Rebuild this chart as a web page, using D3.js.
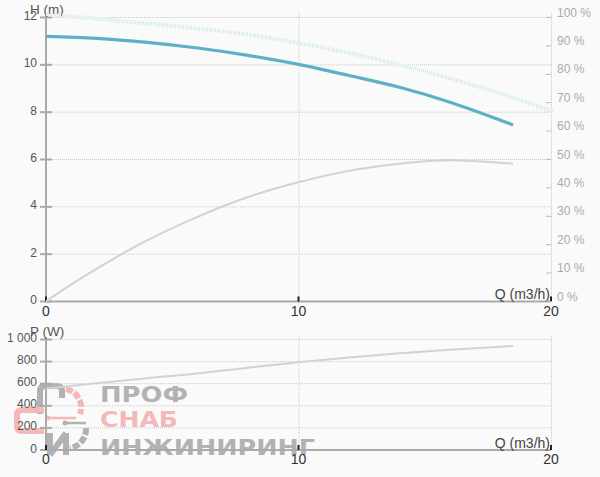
<!doctype html>
<html lang="ru">
<head>
<meta charset="utf-8">
<script src="https://d3js.org/d3.v7.min.js"></script>
<style>
  body { margin: 0; background: #fafafa; }
  svg { display: block; font-family: "Liberation Sans", Arial, sans-serif; }
</style>
</head>
<body>
<div id="chart"></div>
<script>
// ticks
var qTicks = [0, 10, 20];
var hTicks = [0, 2, 4, 6, 8, 10, 12];
var effTicks = [0, 10, 20, 30, 40, 50, 60, 70, 80, 90, 100];
var pTicks = [0, 200, 400, 600, 800, 1000];

// H curve (working point)
var qH   = [0, 2, 4, 6, 8, 10, 12, 14, 16, 18, 18.5];
var hVal = [11.2, 11.12, 10.95, 10.71, 10.4, 10.02, 9.55, 9.05, 8.42, 7.66, 7.46];

// H curve at max speed (light)
var qMax = [0, 2, 4, 6, 8, 10, 12, 14, 16, 18, 20.1];
var hMax = [12.15, 11.95, 11.75, 11.53, 11.28, 10.92, 10.5, 10.0, 9.43, 8.78, 8.02];

// efficiency %
var qEff   = [0, 1, 2, 4, 6, 8, 10, 12, 14, 16, 17, 18.5];
var effVal = [0, 6, 11.5, 21.5, 29.8, 36.8, 42, 46, 48.5, 49.7, 49.4, 48.5];

// power W
var qP   = [0, 2, 4, 6, 8, 10, 12, 14, 16, 18.5];
var pVal = [556, 605, 650, 692, 745, 795, 838, 875, 908, 942];

var width = 600, height = 477;

var svg = d3.select("#chart").append("svg")
    .attr("width", width)
    .attr("height", height);

svg.append("rect").attr("width", width).attr("height", height).attr("fill", "#fafafa");

var x  = d3.scaleLinear().domain([0, 20]).range([46, 551]);
var yH = d3.scaleLinear().domain([0, 12]).range([301.5, 17.5]);
var yE = d3.scaleLinear().domain([0, 100]).range([301.5, 17.5]);
var yP = d3.scaleLinear().domain([0, 1000]).range([450, 339.5]);

var gridColor = "#c8c8c8", axisColor = "#aaa";

// ---- watermark (drawn under the chart)
var wm = svg.append("g").attr("opacity", 0.75);
wm.append("path").attr("d", "M40,414 V391 Q40,386 45,386 H57 Q62,386 62,391 V398")
    .attr("fill", "none").attr("stroke", "#9a9a9a").attr("stroke-width", 6);
wm.append("path").attr("d", "M44,410 H22 Q17,410 17,415 V426 Q17,431 22,431 H44")
    .attr("fill", "none").attr("stroke", "#f2a3a3").attr("stroke-width", 6);
wm.append("path").attr("d", "M66,389 A19,19 0 0 1 80,414")
    .attr("fill", "none").attr("stroke", "#f2a3a3").attr("stroke-width", 6)
    .attr("stroke-dasharray", "7,2");
wm.append("line").attr("x1", 48).attr("y1", 418).attr("x2", 76).attr("y2", 418)
    .attr("stroke", "#f2a3a3").attr("stroke-width", 2.5);
wm.append("circle").attr("cx", 48).attr("cy", 418).attr("r", 2.5).attr("fill", "#f2a3a3");
wm.append("line").attr("x1", 65).attr("y1", 423).attr("x2", 86).attr("y2", 423)
    .attr("stroke", "#9a9a9a").attr("stroke-width", 2.5);
wm.append("circle").attr("cx", 65).attr("cy", 423).attr("r", 2.5).attr("fill", "#9a9a9a");
wm.append("path").attr("d", "M86,428 A19,19 0 0 1 70,448")
    .attr("fill", "none").attr("stroke", "#9a9a9a").attr("stroke-width", 6)
    .attr("stroke-dasharray", "7,2");
wm.append("path").attr("d", "M50,433 V455 M50,455 L66,433 M66,433 V455")
    .attr("fill", "none").attr("stroke", "#9a9a9a").attr("stroke-width", 6);

var wmText = [
  { t: "ПРОФ", y: 402, w: 88, c: "#9a9a9a" },
  { t: "СНАБ", y: 427, w: 78, c: "#f2a3a3" },
  { t: "ИНЖИНИРИНГ", y: 455, w: 215, c: "#9a9a9a" }
];
wm.selectAll("text.wm").data(wmText).enter().append("text")
    .attr("class", "wm")
    .attr("x", 100).attr("y", function(d) { return d.y; })
    .attr("textLength", function(d) { return d.w; })
    .attr("lengthAdjust", "spacingAndGlyphs")
    .attr("font-family", "DejaVu Sans")
    .attr("font-weight", "bold")
    .attr("font-size", 21)
    .attr("fill", function(d) { return d.c; })
    .text(function(d) { return d.t; });

// ---- grids
function hGrid(vals, yScale) {
  svg.append("g").selectAll("line").data(vals.filter(function(v) { return v > 0; }))
    .enter().append("line")
      .attr("x1", x(0)).attr("x2", x(20))
      .attr("y1", function(d) { return yScale(d); })
      .attr("y2", function(d) { return yScale(d); })
      .attr("stroke", gridColor).attr("stroke-width", 1)
      .attr("stroke-dasharray", "1,1");
}
function vGrid(y1, y2) {
  svg.append("g").selectAll("line").data([10, 20]).enter().append("line")
      .attr("x1", function(d) { return x(d) + 0.5; })
      .attr("x2", function(d) { return x(d) + 0.5; })
      .attr("y1", y1).attr("y2", y2)
      .attr("stroke", gridColor).attr("stroke-width", 1)
      .attr("stroke-dasharray", "1,1");
}
hGrid(hTicks, yH);
vGrid(12, 301);
hGrid(pTicks, yP);
vGrid(336, 450);

// ---- axes
function leftAxis(vals, yScale, top, fmt) {
  var g = svg.append("g");
  g.append("line").attr("x1", x(0)).attr("x2", x(0))
      .attr("y1", top).attr("y2", yScale(0))
      .attr("stroke", axisColor).attr("stroke-width", 2);
  g.selectAll("line.tk").data(vals).enter().append("line")
      .attr("class", "tk")
      .attr("x1", x(0) - 6).attr("x2", x(0) + 6)
      .attr("y1", function(d) { return yScale(d); })
      .attr("y2", function(d) { return yScale(d); })
      .attr("stroke", axisColor).attr("stroke-width", 2);
  g.selectAll("text").data(vals).enter().append("text")
      .attr("x", 37).attr("y", function(d) { return yScale(d) + 2.5; })
      .attr("text-anchor", "end")
      .attr("font-size", 12).attr("fill", "#555")
      .text(fmt);
}
function bottomAxis(y0, labelY) {
  var g = svg.append("g");
  g.append("line").attr("x1", x(0)).attr("x2", x(20))
      .attr("y1", y0).attr("y2", y0)
      .attr("stroke", axisColor).attr("stroke-width", 2);
  g.selectAll("line.tk").data(qTicks).enter().append("line")
      .attr("class", "tk")
      .attr("x1", function(d) { return x(d); }).attr("x2", function(d) { return x(d); })
      .attr("y1", y0 - 5).attr("y2", y0)
      .attr("stroke", "#222").attr("stroke-width", 2);
  g.selectAll("text").data(qTicks).enter().append("text")
      .attr("x", function(d) { return x(d); }).attr("y", labelY)
      .attr("text-anchor", "middle")
      .attr("font-size", 14).attr("fill", "#333")
      .text(function(d) { return d; });
  g.append("text").attr("x", 550).attr("y", y0 - 2.5)
      .attr("text-anchor", "end").attr("font-size", 14).attr("fill", "#444")
      .text("Q (m3/h)");
}

leftAxis(hTicks, yH, 15, function(d) { return d; });
leftAxis(pTicks, yP, 337, function(d) { return d >= 1000 ? "1 000" : d; });
bottomAxis(301.5, 315.5);
bottomAxis(450, 464);

// right efficiency axis
var ra = svg.append("g");
ra.selectAll("line").data(effTicks).enter().append("line")
    .attr("x1", x(20) - 5).attr("x2", x(20))
    .attr("y1", function(d) { return yE(d); })
    .attr("y2", function(d) { return yE(d); })
    .attr("stroke", "#bbb").attr("stroke-width", 1);
ra.selectAll("text").data(effTicks).enter().append("text")
    .attr("x", 557).attr("y", function(d) { return yE(d) - 1; })
    .attr("font-size", 12).attr("fill", "#aaa")
    .text(function(d) { return d + " %"; });

svg.append("text").attr("x", 30).attr("y", 13.5)
    .attr("font-size", 13.5).attr("fill", "#555").text("H (m)");
svg.append("text").attr("x", 30).attr("y", 335.5)
    .attr("font-size", 13.5).attr("fill", "#555").text("P (W)");

// ---- curves
function curve(qs, vs, yScale) {
  return d3.line()
      .x(function(d, i) { return x(qs[i]); })
      .y(function(d) { return yScale(d); })
      .curve(d3.curveMonotoneX)(vs);
}

svg.append("path").attr("d", curve(qMax, hMax, yH))
    .attr("fill", "none").attr("stroke", "#e1eff5").attr("stroke-width", 4)
    .attr("stroke-dasharray", "3,1");
svg.append("path").attr("d", curve(qEff, effVal, yE))
    .attr("fill", "none").attr("stroke", "#d2d2d2").attr("stroke-width", 2);
svg.append("path").attr("d", curve(qH, hVal, yH))
    .attr("fill", "none").attr("stroke", "#5fafcb").attr("stroke-width", 3.2);
svg.append("path").attr("d", curve(qP, pVal, yP))
    .attr("fill", "none").attr("stroke", "#d2d2d2").attr("stroke-width", 2);
</script>
</body>
</html>
